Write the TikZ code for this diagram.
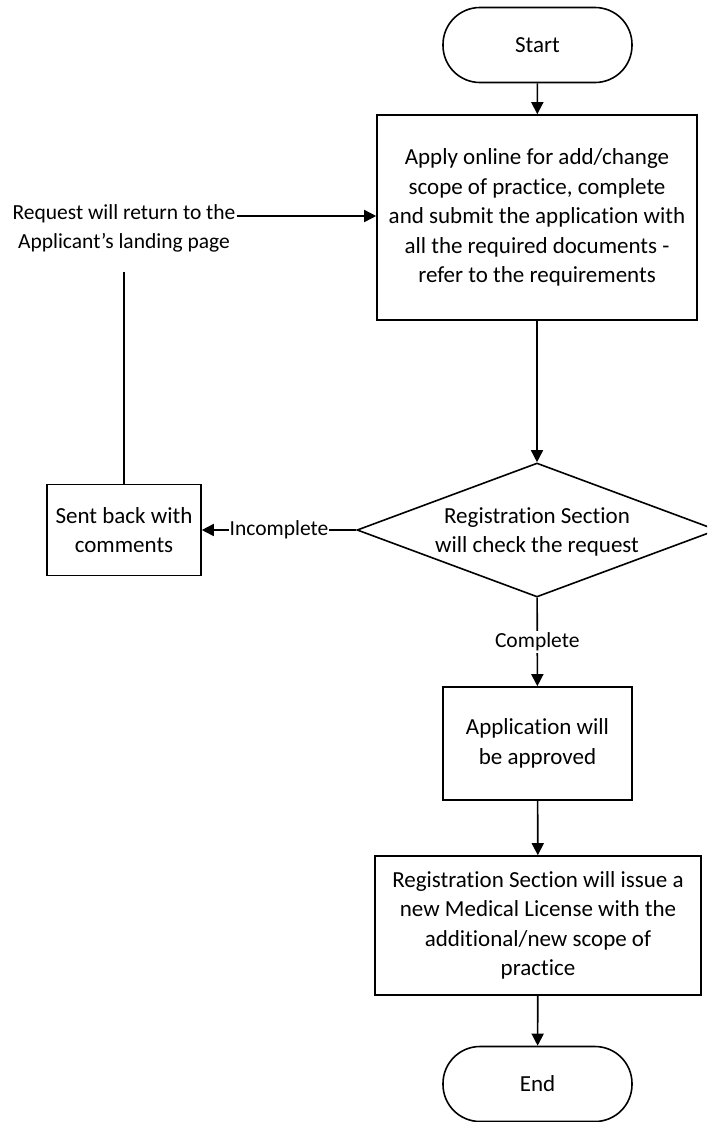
\documentclass[tikz,border=0pt]{standalone}
\usepackage{fontspec}
\setmainfont{Carlito}[Ligatures=NoCommon]
\usetikzlibrary{shapes.geometric,arrows.meta}

\begin{document}
\begin{tikzpicture}[x=1pt,y=-1pt,
        font=\fontsize{23}{29.5}\selectfont,
        line width=1.6pt,
        term/.style={draw, rounded corners=37pt, minimum width=189pt, minimum height=75pt},
        proc/.style={draw, align=center, inner sep=0pt},
        decision/.style={draw, diamond, minimum width=360pt, minimum height=134pt, inner sep=0pt},
        lbl/.style={font=\fontsize{21.5}{29}\selectfont},
        arr/.style={-{Triangle[length=12pt,width=12pt]}}]
            \clip (0,0) rectangle (707,1122);
            \node[term] (start) at (537.5,45) {Start};
            \node[proc, minimum width=320pt, minimum height=205pt] (apply) at (537,217.5)
                {Apply online for add/change\\scope of practice, complete\\and submit the application with\\all the required documents -\\refer to the requirements};
            \node[decision] (check) at (537,530) {};
            \node[align=center] (checktxt) at (537,532) {Registration Section\\will check the request};
            \node[proc, minimum width=154pt, minimum height=91pt] (sent) at (124,530) {Sent back with\\comments};
            \node[lbl, align=center] (ret) at (124,228) {Request will return to the\\Applicant’s landing page};
            \coordinate (retend) at (ret.north east |- 0,216);
            \coordinate (retfoot) at (124,272);
            \node[proc, minimum width=189pt, minimum height=113pt] (approve) at (537.5,743.5) {Application will\\be approved};
            \node[proc, minimum width=326pt, minimum height=139pt] (issue) at (538,925.5)
                {Registration Section will issue a\\new Medical License with the\\additional/new scope of\\practice};
            \node[term] (end) at (537.5,1084) {End};
            \draw[arr] (start) -- (apply);
            \draw[arr] (apply) -- (check);
            \draw[arr] (check.west) -- node[lbl, fill=white, inner sep=1pt]{Incomplete} (sent.east);
            \draw[arr] (check) -- node[lbl, fill=white, inner sep=2pt]{Complete} (approve);
            \draw[arr] (approve) -- (issue);
            \draw[arr] (issue) -- (end);
            \draw (retfoot) -- (sent);
            \draw[arr] ([xshift=-3pt]retend) -- (retend -| apply.west);
        \end{tikzpicture}
\end{document}
